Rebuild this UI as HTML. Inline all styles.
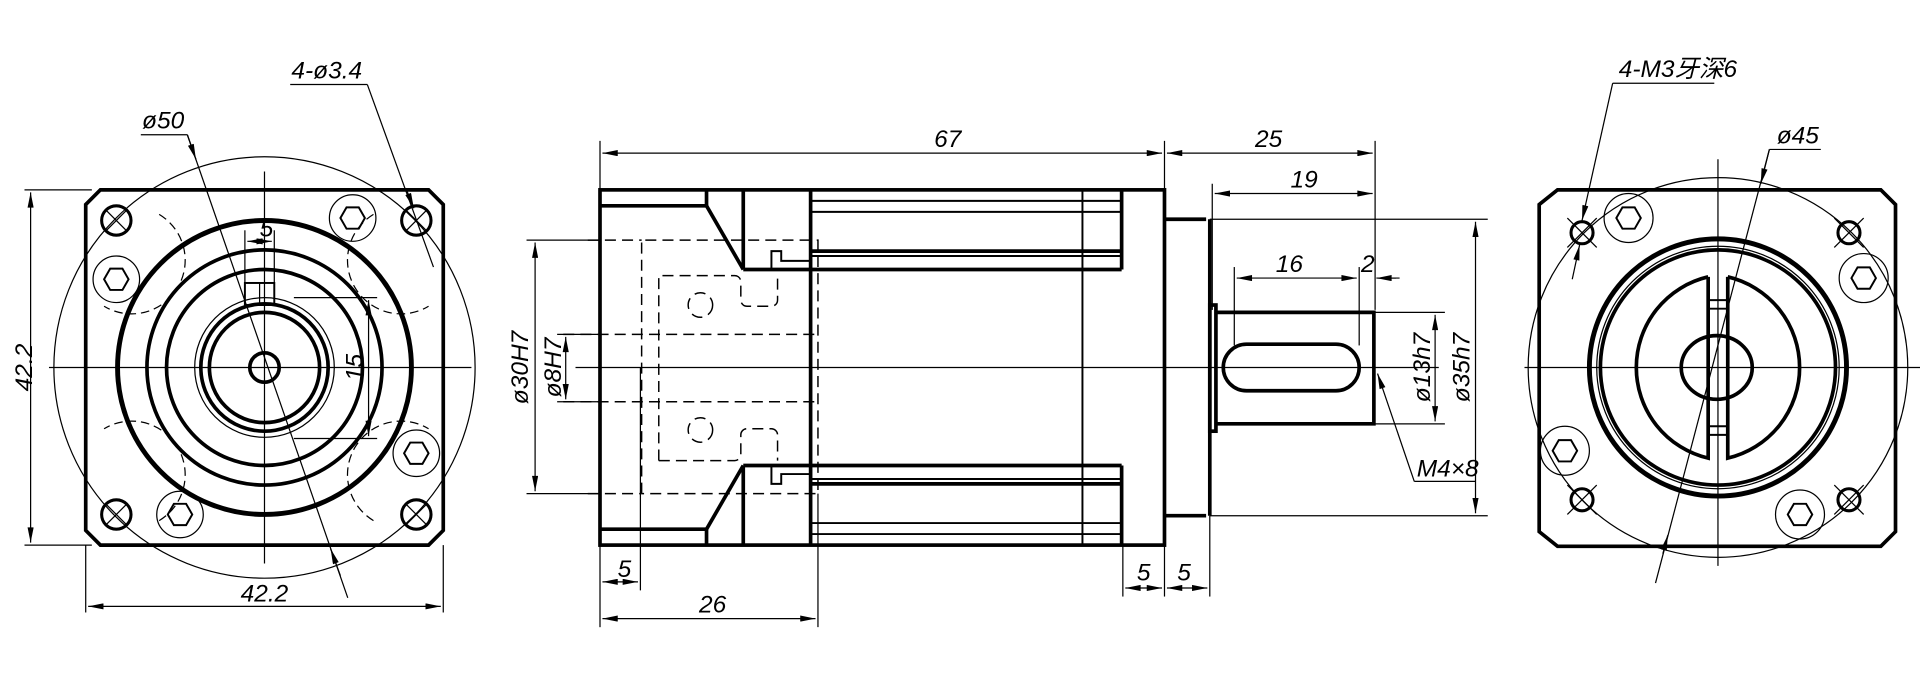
<!DOCTYPE html>
<html><head><meta charset="utf-8"><style>
html,body{margin:0;padding:0;background:#fff}
svg{display:block}
text{font-family:"Liberation Sans","Noto Sans CJK SC",sans-serif;font-style:italic;font-size:20px;fill:#000}
.k{stroke:#000;stroke-width:3;fill:none}
.t{stroke:#000;stroke-width:1;fill:none}
.m{stroke:#000;stroke-width:1.6;fill:none}
.d{stroke:#000;stroke-width:1.2;fill:none;stroke-dasharray:9 5}
</style></head><body>
<svg width="1920" height="697" viewBox="0 0 1568 569" preserveAspectRatio="none" xmlns="http://www.w3.org/2000/svg">
<defs>
<marker id="a" viewBox="0 0 10 4" refX="10" refY="2" markerWidth="14" markerHeight="5" orient="auto-start-reverse" markerUnits="userSpaceOnUse"><path d="M0,0L10,2L0,4z" fill="#000"/></marker>
<path id="hx" d="M-10,0L-5,-8.7H5L10,0L5,8.7H-5Z"/>
</defs>

<!-- LEFT VIEW -->
<path class="k" d="M82,155H350L362,167V433L350,445H82L70,433V167Z"/>
<circle class="t" cx="216" cy="300" r="172"/>
<line class="t" x1="40" y1="300" x2="385" y2="300"/>
<line class="t" x1="216" y1="140" x2="216" y2="460"/>
<circle class="k" cx="216" cy="300" r="120" style="stroke-width:4"/>
<circle class="k" cx="216" cy="300" r="96"/>
<circle class="k" cx="216" cy="300" r="80"/>
<circle class="t" cx="216" cy="300" r="57"/>
<circle class="k" cx="216" cy="300" r="52"/>
<circle class="k" cx="216" cy="300" r="45"/>
<circle class="k" cx="216" cy="300" r="12"/>
<rect class="m" x="200" y="231" width="24" height="18"/>
<line class="t" x1="212" y1="231" x2="212" y2="249"/>
<g class="k" style="stroke-width:2.5">
<circle cx="95" cy="180" r="12"/><circle cx="340" cy="180" r="12"/><circle cx="95" cy="420" r="12"/><circle cx="340" cy="420" r="12"/>
</g>
<g class="t">
<path d="M87,172l16,16M103,172l-16,16M332,172l16,16M348,172l-16,16M87,412l16,16M103,412l-16,16M332,412l16,16M348,412l-16,16"/>
<circle cx="288" cy="178" r="19"/><circle cx="95" cy="228" r="19"/><circle cx="340" cy="370" r="19"/><circle cx="147" cy="420" r="19"/>
</g>
<g class="m">
<use href="#hx" x="288" y="178"/><use href="#hx" x="95" y="228"/><use href="#hx" x="340" y="370"/><use href="#hx" x="147" y="420"/>
</g>
<g class="t">
<path d="M130,175 a40,40 0 0 1 -45,75 M305,175 a40,40 0 0 0 45,75 M130,425 a40,40 0 0 0 -45,-75 M305,425 a40,40 0 0 1 45,-75" stroke-dasharray="7 4"/>
<line x1="20" y1="155" x2="75" y2="155"/><line x1="20" y1="445" x2="75" y2="445"/>
<line x1="70" y1="445" x2="70" y2="500"/><line x1="362" y1="445" x2="362" y2="500"/>
<line x1="200" y1="232" x2="200" y2="188"/><line x1="224" y1="232" x2="224" y2="188"/>
<line x1="240" y1="243" x2="308" y2="243"/><line x1="240" y1="358" x2="308" y2="358"/>
</g>
<line class="t" x1="25" y1="157" x2="25" y2="443" marker-start="url(#a)" marker-end="url(#a)"/>
<line class="t" x1="72" y1="495" x2="360" y2="495" marker-start="url(#a)" marker-end="url(#a)"/>
<line class="t" x1="202" y1="197" x2="222" y2="197" marker-start="url(#a)" marker-end="url(#a)"/>
<line class="t" x1="301" y1="245" x2="301" y2="356" marker-start="url(#a)" marker-end="url(#a)"/>
<text transform="translate(26,300) rotate(-90)" text-anchor="middle">42.2</text>
<text x="216" y="491" text-anchor="middle">42.2</text>
<text x="212" y="193" font-size="14">5</text>
<text transform="translate(296,300) rotate(-90)" font-size="15" text-anchor="middle">15</text>
<text x="116" y="105">ø50</text>
<line class="t" x1="115" y1="110" x2="153" y2="110"/>
<line class="t" x1="153" y1="110" x2="284" y2="488" />
<line class="t" x1="153" y1="110" x2="160" y2="130" marker-end="url(#a)"/>
<line class="t" x1="278" y1="470" x2="270" y2="448" marker-end="url(#a)"/>
<text x="238" y="64">4-ø3.4</text>
<line class="t" x1="237" y1="69" x2="300" y2="69"/>
<line class="t" x1="300" y1="69" x2="354" y2="218"/>
<line class="t" x1="332" y1="155" x2="338" y2="170" marker-end="url(#a)"/>

<!-- MIDDLE VIEW -->
<rect class="k" x="490" y="155" width="461" height="290"/>
<g class="k">
<line x1="577" y1="155" x2="577" y2="168"/><line x1="607" y1="155" x2="607" y2="220"/>
<line x1="662" y1="155" x2="662" y2="445"/><line x1="916" y1="155" x2="916" y2="220"/>
<line x1="577" y1="445" x2="577" y2="432"/><line x1="607" y1="445" x2="607" y2="380"/>
<line x1="916" y1="445" x2="916" y2="380"/>
<line x1="490" y1="168" x2="577" y2="168"/><line x1="577" y1="168" x2="607" y2="220"/>
<line x1="607" y1="220" x2="916" y2="220"/>
<line x1="490" y1="432" x2="577" y2="432"/><line x1="577" y1="432" x2="607" y2="380"/>
<line x1="607" y1="380" x2="916" y2="380"/>
<line x1="662" y1="205" x2="916" y2="205"/><line x1="662" y1="395" x2="916" y2="395"/>
<line x1="951" y1="179" x2="985" y2="179"/><line x1="951" y1="421" x2="985" y2="421"/>
<line x1="988" y1="179" x2="988" y2="421"/>
<rect x="988" y="249" width="5" height="103"/>
<path d="M993,255H1122V346H993"/>
<rect x="999" y="281" width="111" height="38" rx="19"/>
</g>
<g class="m">
<line x1="662" y1="164" x2="916" y2="164"/><line x1="662" y1="173" x2="916" y2="173"/>
<line x1="662" y1="209" x2="916" y2="209"/><line x1="662" y1="391" x2="916" y2="391"/>
<line x1="662" y1="427" x2="916" y2="427"/><line x1="662" y1="436" x2="916" y2="436"/>
<line x1="884" y1="155" x2="884" y2="445"/>
<path d="M630,220V205h8v8h24M630,380V395h8v-8h24"/>
</g>
<g class="d">
<path d="M524,403V196H668V403H524"/>
<path d="M480,196H524M480,403H524M460,273H668M460,328H668"/>
<path d="M538,376V225H600a5,5 0 0 1 5,5V245a5,5 0 0 0 5,5h20a5,5 0 0 0 5,-5V225"/>
<path d="M538,376H600a5,5 0 0 0 5,-5V355a5,5 0 0 1 5,-5h20a5,5 0 0 1 5,5V376"/>
<circle cx="572" cy="249" r="10"/><circle cx="572" cy="351" r="10"/>
</g>
<g class="t">
<line x1="470" y1="300" x2="1175" y2="300"/>
<line x1="490" y1="155" x2="490" y2="115"/><line x1="951" y1="155" x2="951" y2="115"/>
<line x1="1123" y1="115" x2="1123" y2="253"/><line x1="990" y1="150" x2="990" y2="253"/>
<line x1="1008" y1="218" x2="1008" y2="282"/><line x1="1110" y1="218" x2="1110" y2="282"/>
<line x1="430" y1="196" x2="490" y2="196"/><line x1="430" y1="403" x2="490" y2="403"/>
<line x1="455" y1="273" x2="490" y2="273"/><line x1="455" y1="328" x2="490" y2="328"/>
<line x1="1122" y1="255" x2="1180" y2="255"/><line x1="1122" y1="346" x2="1180" y2="346"/>
<line x1="988" y1="179" x2="1215" y2="179"/><line x1="988" y1="421" x2="1215" y2="421"/>
<line x1="490" y1="445" x2="490" y2="512"/><line x1="523" y1="300" x2="523" y2="482"/>
<line x1="668" y1="403" x2="668" y2="512"/>
<line x1="917" y1="445" x2="917" y2="487"/><line x1="951" y1="445" x2="951" y2="487"/><line x1="988" y1="421" x2="988" y2="487"/>
</g>
<line class="t" x1="492" y1="125" x2="949" y2="125" marker-start="url(#a)" marker-end="url(#a)"/>
<line class="t" x1="953" y1="125" x2="1121" y2="125" marker-start="url(#a)" marker-end="url(#a)"/>
<line class="t" x1="992" y1="158" x2="1121" y2="158" marker-start="url(#a)" marker-end="url(#a)"/>
<line class="t" x1="1010" y1="227" x2="1108" y2="227" marker-start="url(#a)" marker-end="url(#a)"/>
<line class="t" x1="1125" y1="227" x2="1140" y2="227"/>
<line class="t" x1="1143" y1="227" x2="1124" y2="227" marker-end="url(#a)"/>
<line class="t" x1="437" y1="198" x2="437" y2="401" marker-start="url(#a)" marker-end="url(#a)"/>
<line class="t" x1="462" y1="275" x2="462" y2="326" marker-start="url(#a)" marker-end="url(#a)"/>
<line class="t" x1="1172" y1="257" x2="1172" y2="344" marker-start="url(#a)" marker-end="url(#a)"/>
<line class="t" x1="1205" y1="181" x2="1205" y2="419" marker-start="url(#a)" marker-end="url(#a)"/>
<line class="t" x1="492" y1="475" x2="521" y2="475" marker-start="url(#a)" marker-end="url(#a)"/>
<line class="t" x1="492" y1="505" x2="666" y2="505" marker-start="url(#a)" marker-end="url(#a)"/>
<line class="t" x1="919" y1="480" x2="949" y2="480" marker-start="url(#a)" marker-end="url(#a)"/>
<line class="t" x1="953" y1="480" x2="986" y2="480" marker-start="url(#a)" marker-end="url(#a)"/>
<text x="774" y="120" text-anchor="middle">67</text>
<text x="1036" y="120" text-anchor="middle">25</text>
<text x="1065" y="153" text-anchor="middle">19</text>
<text x="1053" y="222" text-anchor="middle">16</text>
<text x="1117" y="222" text-anchor="middle">2</text>
<text x="510" y="471" text-anchor="middle">5</text>
<text x="582" y="500" text-anchor="middle">26</text>
<text x="934" y="474" text-anchor="middle">5</text>
<text x="967" y="474" text-anchor="middle">5</text>
<text transform="translate(431,300) rotate(-90)" text-anchor="middle">ø30H7</text>
<text transform="translate(458,300) rotate(-90)" text-anchor="middle">ø8H7</text>
<text transform="translate(1168,300) rotate(-90)" text-anchor="middle">ø13h7</text>
<text transform="translate(1200,300) rotate(-90)" text-anchor="middle">ø35h7</text>
<text x="1157" y="389" font-size="15">M4×8</text>
<line class="t" x1="1155" y1="393" x2="1205" y2="393"/>
<line class="t" x1="1155" y1="393" x2="1125" y2="305" marker-end="url(#a)"/>

<!-- RIGHT VIEW -->
<path class="k" d="M1272,155H1536L1548,167V434L1536,446H1272L1257,434V167Z"/>
<circle class="t" cx="1403" cy="300" r="155"/>
<line class="t" x1="1245" y1="300" x2="1568" y2="300"/>
<line class="t" x1="1403" y1="130" x2="1403" y2="462"/>
<circle class="k" cx="1403" cy="300" r="105" style="stroke-width:4"/>
<circle class="t" cx="1403" cy="300" r="99"/>
<circle class="k" cx="1403" cy="300" r="96"/>
<path class="k" d="M1395,226A76,76 0 0 0 1395,374V226M1411,226A76,76 0 0 1 1411,374V226"/>
<path class="m" d="M1395,245h16M1395,252h16M1395,348h16M1395,355h16"/>
<ellipse class="k" cx="1402" cy="300" rx="29" ry="26"/>
<g class="k" style="stroke-width:2.5">
<circle cx="1292" cy="190" r="9"/><circle cx="1510" cy="190" r="9"/><circle cx="1292" cy="408" r="9"/><circle cx="1510" cy="408" r="9"/>
</g>
<g class="t">
<path d="M1280,178l24,24M1304,178l-24,24M1498,178l24,24M1522,178l-24,24M1280,396l24,24M1304,396l-24,24M1498,396l24,24M1522,396l-24,24"/>
<circle cx="1330" cy="178" r="20"/><circle cx="1522" cy="227" r="20"/><circle cx="1278" cy="368" r="20"/><circle cx="1470" cy="420" r="20"/>
</g>
<g class="m">
<use href="#hx" x="1330" y="178"/><use href="#hx" x="1522" y="227"/><use href="#hx" x="1278" y="368"/><use href="#hx" x="1470" y="420"/>
</g>
<text x="1322" y="63">4-M3牙深6</text>
<line class="t" x1="1317" y1="68" x2="1400" y2="68"/>
<line class="t" x1="1317" y1="68" x2="1292" y2="180" marker-end="url(#a)"/>
<line class="t" x1="1284" y1="228" x2="1290" y2="200" marker-end="url(#a)"/>
<text x="1451" y="117">ø45</text>
<line class="t" x1="1445" y1="122" x2="1487" y2="122"/>
<line class="t" x1="1445" y1="122" x2="1352" y2="476"/>
<line class="t" x1="1445" y1="122" x2="1438" y2="150" marker-end="url(#a)"/>
<line class="t" x1="1358" y1="452" x2="1362" y2="437" marker-end="url(#a)"/>
</svg>
</body></html>
